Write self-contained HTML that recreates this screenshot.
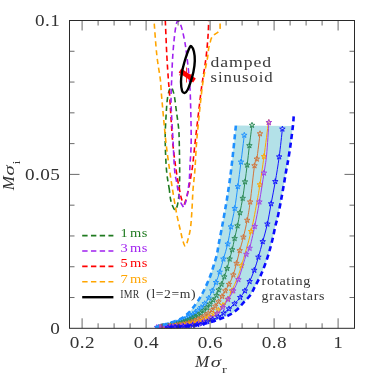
<!DOCTYPE html>
<html><head><meta charset="utf-8"><title>plot</title>
<style>
html,body{margin:0;padding:0;background:#fff;}
svg{display:block;font-family:"Liberation Serif",serif;}
</style></head><body>
<svg width="374" height="374" viewBox="0 0 374 374">
<rect width="374" height="374" fill="#fff"/>
<defs><clipPath id="cp"><rect x="69.50" y="20.50" width="285.00" height="307.80"/></clipPath></defs><g clip-path="url(#cp)">
<path d="M155.00,327.30C156.67,326.85 161.67,325.63 165.00,324.60C168.33,323.57 172.10,322.23 175.00,321.10C177.90,319.97 180.28,319.02 182.40,317.80C184.52,316.58 185.73,315.73 187.70,313.80C189.67,311.87 192.18,308.82 194.20,306.20C196.22,303.58 198.22,300.63 199.80,298.10C201.38,295.57 202.37,293.67 203.70,291.00C205.03,288.33 206.58,284.93 207.80,282.10C209.02,279.27 210.05,276.68 211.00,274.00C211.95,271.32 212.53,269.17 213.50,266.00C214.47,262.83 215.90,258.82 216.80,255.00C217.70,251.18 218.03,247.75 218.90,243.10C219.77,238.45 221.00,232.45 222.00,227.10C223.00,221.75 223.97,216.35 224.90,211.00C225.83,205.65 226.50,202.33 227.60,195.00C228.70,187.67 230.12,178.57 231.50,167.00C232.88,155.43 235.17,132.50 235.90,125.60L292.90,126.00L292.90,126.00C292.57,128.68 291.63,136.75 290.90,142.10C290.17,147.45 289.27,153.45 288.50,158.10C287.73,162.75 287.12,165.35 286.30,170.00C285.48,174.65 284.53,180.65 283.60,186.00C282.67,191.35 281.72,196.75 280.70,202.10C279.68,207.45 278.35,214.28 277.50,218.10C276.65,221.92 276.50,221.18 275.60,225.00C274.70,228.82 273.43,235.65 272.10,241.00C270.77,246.35 269.33,251.75 267.60,257.10C265.87,262.45 263.78,268.23 261.70,273.10C259.62,277.97 256.98,282.65 255.10,286.30C253.22,289.95 252.30,292.32 250.40,295.00C248.50,297.68 245.82,300.07 243.70,302.40C241.58,304.73 239.92,307.00 237.70,309.00C235.48,311.00 232.85,312.93 230.40,314.40C227.95,315.87 225.57,316.73 223.00,317.80C220.43,318.87 217.90,319.87 215.00,320.80C212.10,321.73 208.93,322.67 205.60,323.40C202.27,324.13 198.43,324.70 195.00,325.20C191.57,325.70 189.17,326.03 185.00,326.40C180.83,326.77 172.50,327.23 170.00,327.40Z" fill="#b3e1e8" stroke="none"/>
<path d="M158.00,327.20C160.83,326.58 169.67,325.28 175.00,323.50C180.33,321.72 185.83,319.00 190.00,316.50C194.17,314.00 197.08,311.25 200.00,308.50C202.92,305.75 205.47,302.95 207.50,300.00C209.53,297.05 210.80,293.73 212.20,290.80C213.60,287.87 214.65,285.52 215.90,282.40C217.15,279.28 218.45,276.00 219.70,272.10C220.95,268.20 222.07,263.68 223.40,259.00C224.73,254.32 226.45,249.37 227.70,244.00C228.95,238.63 229.73,232.73 230.90,226.80C232.07,220.87 233.55,215.12 234.70,208.40C235.85,201.68 236.75,194.23 237.80,186.50C238.85,178.77 239.92,170.55 241.00,162.00C242.08,153.45 243.75,139.67 244.30,135.20" fill="none" stroke="#1e90ff" stroke-width="1.00"/>
<path d="M244.30,132.30L244.98,134.27L247.06,134.30L245.39,135.56L246.00,137.55L244.30,136.35L242.60,137.55L243.21,135.56L241.54,134.30L243.62,134.27Z M241.00,159.10L241.68,161.07L243.76,161.10L242.09,162.36L242.70,164.35L241.00,163.15L239.30,164.35L239.91,162.36L238.24,161.10L240.32,161.07Z M237.80,183.60L238.48,185.57L240.56,185.60L238.89,186.86L239.50,188.85L237.80,187.65L236.10,188.85L236.71,186.86L235.04,185.60L237.12,185.57Z M234.70,205.50L235.38,207.47L237.46,207.50L235.79,208.76L236.40,210.75L234.70,209.55L233.00,210.75L233.61,208.76L231.94,207.50L234.02,207.47Z M230.90,223.90L231.58,225.87L233.66,225.90L231.99,227.16L232.60,229.15L230.90,227.95L229.20,229.15L229.81,227.16L228.14,225.90L230.22,225.87Z M227.70,241.10L228.38,243.07L230.46,243.10L228.79,244.36L229.40,246.35L227.70,245.15L226.00,246.35L226.61,244.36L224.94,243.10L227.02,243.07Z M223.40,256.10L224.08,258.07L226.16,258.10L224.49,259.36L225.10,261.35L223.40,260.15L221.70,261.35L222.31,259.36L220.64,258.10L222.72,258.07Z M219.70,269.20L220.38,271.17L222.46,271.20L220.79,272.46L221.40,274.45L219.70,273.25L218.00,274.45L218.61,272.46L216.94,271.20L219.02,271.17Z M215.90,279.50L216.58,281.47L218.66,281.50L216.99,282.76L217.60,284.75L215.90,283.55L214.20,284.75L214.81,282.76L213.14,281.50L215.22,281.47Z M212.20,287.90L212.88,289.87L214.96,289.90L213.29,291.16L213.90,293.15L212.20,291.95L210.50,293.15L211.11,291.16L209.44,289.90L211.52,289.87Z M208.68,295.22L209.36,297.18L211.44,297.22L209.77,298.47L210.38,300.46L208.68,299.27L206.97,300.46L207.59,298.47L205.92,297.22L208.00,297.18Z M204.70,300.72L205.38,302.69L207.46,302.72L205.79,303.97L206.40,305.96L204.70,304.77L203.00,305.96L203.61,303.97L201.94,302.72L204.02,302.69Z M201.08,304.57L201.75,306.54L203.83,306.57L202.17,307.82L202.78,309.81L201.08,308.62L199.37,309.81L199.98,307.82L198.32,306.57L200.40,306.54Z M197.79,307.66L198.47,309.63L200.55,309.66L198.89,310.91L199.50,312.90L197.79,311.71L196.09,312.90L196.70,310.91L195.03,309.66L197.12,309.63Z M195.06,310.03L195.74,312.00L197.82,312.03L196.16,313.28L196.77,315.28L195.06,314.08L193.36,315.28L193.97,313.28L192.30,312.03L194.39,312.00Z M192.91,311.68L193.59,313.65L195.67,313.69L194.00,314.94L194.61,316.93L192.91,315.73L191.21,316.93L191.82,314.94L190.15,313.69L192.23,313.65Z M191.02,312.97L191.69,314.94L193.77,314.97L192.11,316.23L192.72,318.22L191.02,317.02L189.31,318.22L189.92,316.23L188.26,314.97L190.34,314.94Z M188.93,314.23L189.61,316.20L191.69,316.23L190.03,317.48L190.64,319.47L188.93,318.28L187.23,319.47L187.84,317.48L186.17,316.23L188.26,316.20Z M186.65,315.50L187.32,317.47L189.41,317.50L187.74,318.75L188.35,320.74L186.65,319.55L184.94,320.74L185.55,318.75L183.89,317.50L185.97,317.47Z M184.83,316.44L185.51,318.41L187.59,318.45L185.92,319.70L186.53,321.69L184.83,320.49L183.12,321.69L183.74,319.70L182.07,318.45L184.15,318.41Z M182.94,317.37L183.61,319.34L185.70,319.37L184.03,320.62L184.64,322.61L182.94,321.42L181.23,322.61L181.84,320.62L180.18,319.37L182.26,319.34Z M180.99,318.26L181.67,320.23L183.75,320.26L182.08,321.52L182.70,323.51L180.99,322.31L179.29,323.51L179.90,321.52L178.23,320.26L180.32,320.23Z M179.01,319.11L179.68,321.08L181.77,321.11L180.10,322.36L180.71,324.35L179.01,323.16L177.30,324.35L177.91,322.36L176.25,321.11L178.33,321.08Z M177.00,319.89L177.68,321.86L179.76,321.89L178.10,323.15L178.71,325.14L177.00,323.94L175.30,325.14L175.91,323.15L174.25,321.89L176.33,321.86Z M175.00,320.60L175.68,322.57L177.76,322.60L176.09,323.86L176.70,325.85L175.00,324.65L173.30,325.85L173.91,323.86L172.24,322.60L174.32,322.57Z M172.85,321.25L173.53,323.22L175.61,323.25L173.95,324.50L174.56,326.49L172.85,325.30L171.15,326.49L171.76,324.50L170.10,323.25L172.18,323.22Z M170.49,321.84L171.17,323.81L173.25,323.85L171.59,325.10L172.20,327.09L170.49,325.89L168.79,327.09L169.40,325.10L167.73,323.85L169.82,323.81Z M168.02,322.39L168.70,324.36L170.78,324.40L169.12,325.65L169.73,327.64L168.02,326.44L166.32,327.64L166.93,325.65L165.27,324.40L167.35,324.36Z M165.56,322.89L166.24,324.86L168.32,324.89L166.66,326.14L167.27,328.13L165.56,326.94L163.86,328.13L164.47,326.14L162.80,324.89L164.89,324.86Z M163.22,323.33L163.89,325.30L165.98,325.33L164.31,326.58L164.92,328.57L163.22,327.38L161.51,328.57L162.12,326.58L160.46,325.33L162.54,325.30Z M161.10,323.71L161.78,325.68L163.86,325.72L162.20,326.97L162.81,328.96L161.10,327.76L159.40,328.96L160.01,326.97L158.34,325.72L160.43,325.68Z M158.83,324.13L159.50,326.10L161.59,326.14L159.92,327.39L160.53,329.38L158.83,328.18L157.12,329.38L157.73,327.39L156.07,326.14L158.15,326.10Z" fill="none" stroke="#1e90ff" stroke-width="0.95" stroke-linejoin="miter"/>
<path d="M160.00,327.20C163.33,326.58 174.17,325.20 180.00,323.50C185.83,321.80 190.83,319.33 195.00,317.00C199.17,314.67 201.98,312.33 205.00,309.50C208.02,306.67 211.18,302.33 213.10,300.00C215.02,297.67 215.57,297.18 216.50,295.50C217.43,293.82 217.87,291.77 218.70,289.90C219.53,288.03 220.57,286.48 221.50,284.30C222.43,282.12 223.37,279.45 224.30,276.80C225.23,274.15 226.22,271.37 227.10,268.40C227.98,265.43 228.75,262.12 229.60,259.00C230.45,255.88 231.37,253.13 232.20,249.70C233.03,246.27 233.72,242.38 234.60,238.40C235.48,234.42 236.62,230.08 237.50,225.80C238.38,221.52 239.03,217.28 239.90,212.70C240.77,208.12 241.85,203.45 242.70,198.30C243.55,193.15 244.25,187.35 245.00,181.80C245.75,176.25 246.47,171.03 247.20,165.00C247.93,158.97 248.60,152.23 249.40,145.60C250.20,138.97 251.57,128.60 252.00,125.20" fill="none" stroke="#2e8b57" stroke-width="1.00"/>
<path d="M252.00,122.30L252.68,124.27L254.76,124.30L253.09,125.56L253.70,127.55L252.00,126.35L250.30,127.55L250.91,125.56L249.24,124.30L251.32,124.27Z M249.40,142.70L250.08,144.67L252.16,144.70L250.49,145.96L251.10,147.95L249.40,146.75L247.70,147.95L248.31,145.96L246.64,144.70L248.72,144.67Z M247.20,162.10L247.88,164.07L249.96,164.10L248.29,165.36L248.90,167.35L247.20,166.15L245.50,167.35L246.11,165.36L244.44,164.10L246.52,164.07Z M245.00,178.90L245.68,180.87L247.76,180.90L246.09,182.16L246.70,184.15L245.00,182.95L243.30,184.15L243.91,182.16L242.24,180.90L244.32,180.87Z M242.70,195.40L243.38,197.37L245.46,197.40L243.79,198.66L244.40,200.65L242.70,199.45L241.00,200.65L241.61,198.66L239.94,197.40L242.02,197.37Z M239.90,209.80L240.58,211.77L242.66,211.80L240.99,213.06L241.60,215.05L239.90,213.85L238.20,215.05L238.81,213.06L237.14,211.80L239.22,211.77Z M237.50,222.90L238.18,224.87L240.26,224.90L238.59,226.16L239.20,228.15L237.50,226.95L235.80,228.15L236.41,226.16L234.74,224.90L236.82,224.87Z M234.60,235.50L235.28,237.47L237.36,237.50L235.69,238.76L236.30,240.75L234.60,239.55L232.90,240.75L233.51,238.76L231.84,237.50L233.92,237.47Z M232.20,246.80L232.88,248.77L234.96,248.80L233.29,250.06L233.90,252.05L232.20,250.85L230.50,252.05L231.11,250.06L229.44,248.80L231.52,248.77Z M229.60,256.10L230.28,258.07L232.36,258.10L230.69,259.36L231.30,261.35L229.60,260.15L227.90,261.35L228.51,259.36L226.84,258.10L228.92,258.07Z M227.10,265.50L227.78,267.47L229.86,267.50L228.19,268.76L228.80,270.75L227.10,269.55L225.40,270.75L226.01,268.76L224.34,267.50L226.42,267.47Z M224.30,273.90L224.98,275.87L227.06,275.90L225.39,277.16L226.00,279.15L224.30,277.95L222.60,279.15L223.21,277.16L221.54,275.90L223.62,275.87Z M221.50,281.40L222.18,283.37L224.26,283.40L222.59,284.66L223.20,286.65L221.50,285.45L219.80,286.65L220.41,284.66L218.74,283.40L220.82,283.37Z M218.70,287.00L219.38,288.97L221.46,289.00L219.79,290.26L220.40,292.25L218.70,291.05L217.00,292.25L217.61,290.26L215.94,289.00L218.02,288.97Z M216.50,292.60L217.18,294.57L219.26,294.60L217.59,295.86L218.20,297.85L216.50,296.65L214.80,297.85L215.41,295.86L213.74,294.60L215.82,294.57Z M213.10,297.10L213.78,299.07L215.86,299.10L214.19,300.36L214.80,302.35L213.10,301.15L211.40,302.35L212.01,300.36L210.34,299.10L212.42,299.07Z M209.81,301.23L210.49,303.20L212.57,303.24L210.91,304.49L211.52,306.48L209.81,305.28L208.11,306.48L208.72,304.49L207.05,303.24L209.14,303.20Z M206.89,304.67L207.57,306.64L209.65,306.67L207.99,307.92L208.60,309.91L206.89,308.72L205.19,309.91L205.80,307.92L204.13,306.67L206.22,306.64Z M203.88,307.64L204.55,309.61L206.63,309.64L204.97,310.90L205.58,312.89L203.88,311.69L202.17,312.89L202.78,310.90L201.12,309.64L203.20,309.61Z M200.83,310.23L201.50,312.20L203.59,312.23L201.92,313.48L202.53,315.48L200.83,314.28L199.12,315.48L199.74,313.48L198.07,312.23L200.15,312.20Z M197.90,312.34L198.57,314.31L200.65,314.35L198.99,315.60L199.60,317.59L197.90,316.39L196.19,317.59L196.80,315.60L195.14,314.35L197.22,314.31Z M195.00,314.10L195.68,316.07L197.76,316.10L196.09,317.36L196.70,319.35L195.00,318.15L193.30,319.35L193.91,317.36L192.24,316.10L194.32,316.07Z M192.29,315.57L192.96,317.54L195.05,317.57L193.38,318.82L193.99,320.81L192.29,319.62L190.58,320.81L191.19,318.82L189.53,317.57L191.61,317.54Z M189.96,316.73L190.64,318.70L192.72,318.74L191.05,319.99L191.67,321.98L189.96,320.78L188.26,321.98L188.87,319.99L187.20,318.74L189.28,318.70Z M187.50,317.87L188.17,319.84L190.25,319.87L188.59,321.12L189.20,323.11L187.50,321.92L185.79,323.11L186.40,321.12L184.74,319.87L186.82,319.84Z M185.56,318.68L186.23,320.65L188.31,320.68L186.65,321.93L187.26,323.92L185.56,322.73L183.85,323.92L184.46,321.93L182.80,320.68L184.88,320.65Z M183.54,319.45L184.21,321.42L186.30,321.45L184.63,322.70L185.24,324.69L183.54,323.50L181.83,324.69L182.44,322.70L180.78,321.45L182.86,321.42Z M181.44,320.16L182.12,322.13L184.20,322.16L182.53,323.41L183.15,325.41L181.44,324.21L179.74,325.41L180.35,323.41L178.68,322.16L180.77,322.13Z M179.25,320.81L179.92,322.78L182.00,322.81L180.34,324.07L180.95,326.06L179.25,324.86L177.54,326.06L178.15,324.07L176.49,322.81L178.57,322.78Z M176.72,321.42L177.40,323.39L179.48,323.43L177.82,324.68L178.43,326.67L176.72,325.47L175.02,326.67L175.63,324.68L173.97,323.43L176.05,323.39Z M173.93,322.00L174.61,323.97L176.69,324.00L175.02,325.25L175.63,327.24L173.93,326.05L172.23,327.24L172.84,325.25L171.17,324.00L173.25,323.97Z M171.01,322.53L171.68,324.50L173.77,324.53L172.10,325.78L172.71,327.77L171.01,326.58L169.30,327.77L169.91,325.78L168.25,324.53L170.33,324.50Z M168.11,323.01L168.78,324.98L170.86,325.02L169.20,326.27L169.81,328.26L168.11,327.06L166.40,328.26L167.01,326.27L165.35,325.02L167.43,324.98Z M165.37,323.44L166.05,325.41L168.13,325.45L166.46,326.70L167.07,328.69L165.37,327.49L163.67,328.69L164.28,326.70L162.61,325.45L164.69,325.41Z M162.95,323.82L163.62,325.79L165.70,325.82L164.04,327.07L164.65,329.06L162.95,327.87L161.24,329.06L161.85,327.07L160.19,325.82L162.27,325.79Z M160.45,324.22L161.13,326.19L163.21,326.22L161.55,327.47L162.16,329.47L160.45,328.27L158.75,329.47L159.36,327.47L157.70,326.22L159.78,326.19Z" fill="none" stroke="#2e8b57" stroke-width="0.95" stroke-linejoin="miter"/>
<path d="M160.00,327.30C164.17,326.75 178.33,325.47 185.00,324.00C191.67,322.53 195.50,320.83 200.00,318.50C204.50,316.17 208.32,313.68 212.00,310.00C215.68,306.32 219.88,299.60 222.10,296.40C224.32,293.20 224.15,292.82 225.30,290.80C226.45,288.78 227.67,286.95 229.00,284.30C230.33,281.65 232.05,278.40 233.30,274.90C234.55,271.40 235.43,267.35 236.50,263.30C237.57,259.25 238.55,254.97 239.70,250.60C240.85,246.23 242.15,242.17 243.40,237.10C244.65,232.03 246.07,226.07 247.20,220.20C248.33,214.33 248.98,210.98 250.20,201.90C251.42,192.82 253.40,172.85 254.50,165.70C255.60,158.55 255.88,164.33 256.80,159.00C257.72,153.67 259.47,137.92 260.00,133.70" fill="none" stroke="#d2743a" stroke-width="1.00"/>
<path d="M260.00,130.80L260.68,132.77L262.76,132.80L261.09,134.06L261.70,136.05L260.00,134.85L258.30,136.05L258.91,134.06L257.24,132.80L259.32,132.77Z M256.80,156.10L257.48,158.07L259.56,158.10L257.89,159.36L258.50,161.35L256.80,160.15L255.10,161.35L255.71,159.36L254.04,158.10L256.12,158.07Z M254.50,162.80L255.18,164.77L257.26,164.80L255.59,166.06L256.20,168.05L254.50,166.85L252.80,168.05L253.41,166.06L251.74,164.80L253.82,164.77Z M250.20,199.00L250.88,200.97L252.96,201.00L251.29,202.26L251.90,204.25L250.20,203.05L248.50,204.25L249.11,202.26L247.44,201.00L249.52,200.97Z M247.20,217.30L247.88,219.27L249.96,219.30L248.29,220.56L248.90,222.55L247.20,221.35L245.50,222.55L246.11,220.56L244.44,219.30L246.52,219.27Z M243.40,234.20L244.08,236.17L246.16,236.20L244.49,237.46L245.10,239.45L243.40,238.25L241.70,239.45L242.31,237.46L240.64,236.20L242.72,236.17Z M239.70,247.70L240.38,249.67L242.46,249.70L240.79,250.96L241.40,252.95L239.70,251.75L238.00,252.95L238.61,250.96L236.94,249.70L239.02,249.67Z M236.50,260.40L237.18,262.37L239.26,262.40L237.59,263.66L238.20,265.65L236.50,264.45L234.80,265.65L235.41,263.66L233.74,262.40L235.82,262.37Z M233.30,272.00L233.98,273.97L236.06,274.00L234.39,275.26L235.00,277.25L233.30,276.05L231.60,277.25L232.21,275.26L230.54,274.00L232.62,273.97Z M229.00,281.40L229.68,283.37L231.76,283.40L230.09,284.66L230.70,286.65L229.00,285.45L227.30,286.65L227.91,284.66L226.24,283.40L228.32,283.37Z M225.30,287.90L225.98,289.87L228.06,289.90L226.39,291.16L227.00,293.15L225.30,291.95L223.60,293.15L224.21,291.16L222.54,289.90L224.62,289.87Z M222.10,293.50L222.78,295.47L224.86,295.50L223.19,296.76L223.80,298.75L222.10,297.55L220.40,298.75L221.01,296.76L219.34,295.50L221.42,295.47Z M218.48,298.86L219.15,300.83L221.24,300.86L219.57,302.11L220.18,304.10L218.48,302.91L216.77,304.10L217.38,302.11L215.72,300.86L217.80,300.83Z M215.29,303.27L215.97,305.24L218.05,305.27L216.39,306.52L217.00,308.51L215.29,307.32L213.59,308.51L214.20,306.52L212.53,305.27L214.62,305.24Z M212.00,307.10L212.68,309.07L214.76,309.10L213.09,310.36L213.70,312.35L212.00,311.15L210.30,312.35L210.91,310.36L209.24,309.10L211.32,309.07Z M208.25,310.42L208.93,312.39L211.01,312.43L209.35,313.68L209.96,315.67L208.25,314.47L206.55,315.67L207.16,313.68L205.49,312.43L207.58,312.39Z M204.80,312.86L205.48,314.83L207.56,314.86L205.90,316.11L206.51,318.10L204.80,316.91L203.10,318.10L203.71,316.11L202.05,314.86L204.13,314.83Z M201.11,315.01L201.79,316.98L203.87,317.02L202.20,318.27L202.82,320.26L201.11,319.06L199.41,320.26L200.02,318.27L198.35,317.02L200.44,316.98Z M197.79,316.72L198.47,318.69L200.55,318.72L198.88,319.97L199.49,321.96L197.79,320.77L196.08,321.96L196.70,319.97L195.03,318.72L197.11,318.69Z M194.47,318.22L195.14,320.19L197.23,320.22L195.56,321.47L196.17,323.46L194.47,322.27L192.76,323.46L193.38,321.47L191.71,320.22L193.79,320.19Z M191.49,319.33L192.17,321.30L194.25,321.33L192.58,322.59L193.19,324.58L191.49,323.38L189.78,324.58L190.40,322.59L188.73,321.33L190.81,321.30Z M188.83,320.15L189.51,322.12L191.59,322.15L189.92,323.40L190.53,325.40L188.83,324.20L187.12,325.40L187.74,323.40L186.07,322.15L188.15,322.12Z M185.82,320.92L186.49,322.89L188.58,322.92L186.91,324.17L187.52,326.16L185.82,324.97L184.11,326.16L184.73,324.17L183.06,322.92L185.14,322.89Z M183.19,321.46L183.86,323.43L185.95,323.47L184.28,324.72L184.89,326.71L183.19,325.51L181.48,326.71L182.09,324.72L180.43,323.47L182.51,323.43Z M180.02,321.99L180.69,323.96L182.77,323.99L181.11,325.24L181.72,327.23L180.02,326.04L178.31,327.23L178.92,325.24L177.26,323.99L179.34,323.96Z M177.69,322.32L178.36,324.29L180.44,324.33L178.78,325.58L179.39,327.57L177.69,326.37L175.98,327.57L176.59,325.58L174.93,324.33L177.01,324.29Z M175.26,322.64L175.93,324.61L178.02,324.65L176.35,325.90L176.96,327.89L175.26,326.69L173.55,327.89L174.17,325.90L172.50,324.65L174.58,324.61Z M172.79,322.95L173.47,324.92L175.55,324.95L173.89,326.20L174.50,328.19L172.79,327.00L171.09,328.19L171.70,326.20L170.03,324.95L172.12,324.92Z M170.35,323.23L171.02,325.20L173.10,325.24L171.44,326.49L172.05,328.48L170.35,327.28L168.64,328.48L169.25,326.49L167.59,325.24L169.67,325.20Z M167.98,323.50L168.66,325.47L170.74,325.50L169.08,326.76L169.69,328.75L167.98,327.55L166.28,328.75L166.89,326.76L165.23,325.50L167.31,325.47Z M165.76,323.75L166.44,325.71L168.52,325.75L166.86,327.00L167.47,328.99L165.76,327.80L164.06,328.99L164.67,327.00L163.01,325.75L165.09,325.71Z M163.75,323.97L164.42,325.94L166.51,325.97L164.84,327.22L165.45,329.21L163.75,328.02L162.04,329.21L162.65,327.22L160.99,325.97L163.07,325.94Z M161.24,324.25L161.92,326.22L164.00,326.25L162.33,327.50L162.94,329.49L161.24,328.30L159.54,329.49L160.15,327.50L158.48,326.25L160.56,326.22Z" fill="none" stroke="#d2743a" stroke-width="0.95" stroke-linejoin="miter"/>
<path d="M160.00,327.40C165.00,326.92 182.50,325.82 190.00,324.50C197.50,323.18 200.50,321.67 205.00,319.50C209.50,317.33 213.32,314.75 217.00,311.50C220.68,308.25 224.63,303.45 227.10,300.00C229.57,296.55 230.10,294.47 231.80,290.80C233.50,287.13 235.68,282.20 237.30,278.00C238.92,273.80 239.20,273.37 241.50,265.60C243.80,257.83 248.47,242.33 251.10,231.40C253.73,220.47 255.83,207.78 257.30,200.00C258.77,192.22 258.78,191.95 259.90,184.70C261.02,177.45 262.58,166.88 264.00,156.50C265.42,146.12 267.67,128.08 268.40,122.40" fill="none" stroke="#ffa500" stroke-width="1.00"/>
<path d="M268.70,119.50L269.38,121.47L271.46,121.50L269.79,122.76L270.40,124.75L268.70,123.55L267.00,124.75L267.61,122.76L265.94,121.50L268.02,121.47Z M264.00,153.60L264.68,155.57L266.76,155.60L265.09,156.86L265.70,158.85L264.00,157.65L262.30,158.85L262.91,156.86L261.24,155.60L263.32,155.57Z M259.90,181.80L260.58,183.77L262.66,183.80L260.99,185.06L261.60,187.05L259.90,185.85L258.20,187.05L258.81,185.06L257.14,183.80L259.22,183.77Z M251.10,228.50L251.78,230.47L253.86,230.50L252.19,231.76L252.80,233.75L251.10,232.55L249.40,233.75L250.01,231.76L248.34,230.50L250.42,230.47Z M241.50,262.70L242.18,264.67L244.26,264.70L242.59,265.96L243.20,267.95L241.50,266.75L239.80,267.95L240.41,265.96L238.74,264.70L240.82,264.67Z M231.80,287.90L232.48,289.87L234.56,289.90L232.89,291.16L233.50,293.15L231.80,291.95L230.10,293.15L230.71,291.16L229.04,289.90L231.12,289.87Z M227.68,296.26L228.35,298.23L230.44,298.27L228.77,299.52L229.38,301.51L227.68,300.31L225.97,301.51L226.58,299.52L224.92,298.27L227.00,298.23Z M222.94,302.42L223.62,304.38L225.70,304.42L224.04,305.67L224.65,307.66L222.94,306.47L221.24,307.66L221.85,305.67L220.18,304.42L222.27,304.38Z M218.39,307.31L219.07,309.28L221.15,309.32L219.48,310.57L220.09,312.56L218.39,311.36L216.69,312.56L217.30,310.57L215.63,309.32L217.71,309.28Z M213.73,311.28L214.41,313.25L216.49,313.28L214.82,314.54L215.43,316.53L213.73,315.33L212.02,316.53L212.64,314.54L210.97,313.28L213.05,313.25Z M209.80,313.97L210.48,315.94L212.56,315.98L210.90,317.23L211.51,319.22L209.80,318.02L208.10,319.22L208.71,317.23L207.05,315.98L209.13,315.94Z M206.11,316.05L206.79,318.02L208.87,318.05L207.20,319.30L207.82,321.30L206.11,320.10L204.41,321.30L205.02,319.30L203.35,318.05L205.44,318.02Z M202.85,317.63L203.52,319.60L205.61,319.64L203.94,320.89L204.55,322.88L202.85,321.68L201.14,322.88L201.75,320.89L200.09,319.64L202.17,319.60Z M199.72,319.00L200.40,320.97L202.48,321.01L200.82,322.26L201.43,324.25L199.72,323.05L198.02,324.25L198.63,322.26L196.96,321.01L199.05,320.97Z M196.86,320.01L197.53,321.98L199.61,322.01L197.95,323.27L198.56,325.26L196.86,324.06L195.15,325.26L195.76,323.27L194.10,322.01L196.18,321.98Z M194.16,320.75L194.83,322.72L196.91,322.75L195.25,324.00L195.86,325.99L194.16,324.80L192.45,325.99L193.06,324.00L191.40,322.75L193.48,322.72Z M191.78,321.27L192.46,323.24L194.54,323.27L192.88,324.52L193.49,326.51L191.78,325.32L190.08,326.51L190.69,324.52L189.03,323.27L191.11,323.24Z M189.01,321.76L189.69,323.73L191.77,323.77L190.11,325.02L190.72,327.01L189.01,325.81L187.31,327.01L187.92,325.02L186.25,323.77L188.34,323.73Z M186.76,322.08L187.44,324.05L189.52,324.09L187.86,325.34L188.47,327.33L186.76,326.13L185.06,327.33L185.67,325.34L184.00,324.09L186.09,324.05Z M184.21,322.39L184.89,324.36L186.97,324.39L185.31,325.65L185.92,327.64L184.21,326.44L182.51,327.64L183.12,325.65L181.46,324.39L183.54,324.36Z M181.44,322.69L182.12,324.66L184.20,324.69L182.54,325.94L183.15,327.93L181.44,326.74L179.74,327.93L180.35,325.94L178.69,324.69L180.77,324.66Z M178.53,322.97L179.21,324.94L181.29,324.97L179.62,326.22L180.23,328.21L178.53,327.02L176.83,328.21L177.44,326.22L175.77,324.97L177.85,324.94Z M175.55,323.24L176.23,325.20L178.31,325.24L176.65,326.49L177.26,328.48L175.55,327.29L173.85,328.48L174.46,326.49L172.79,325.24L174.88,325.20Z M172.59,323.49L173.26,325.45L175.34,325.49L173.68,326.74L174.29,328.73L172.59,327.54L170.88,328.73L171.49,326.74L169.83,325.49L171.91,325.45Z M169.71,323.72L170.39,325.69L172.47,325.72L170.81,326.97L171.42,328.96L169.71,327.77L168.01,328.96L168.62,326.97L166.95,325.72L169.04,325.69Z M167.01,323.93L167.68,325.90L169.76,325.93L168.10,327.18L168.71,329.18L167.01,327.98L165.30,329.18L165.91,327.18L164.25,325.93L166.33,325.90Z M164.55,324.12L165.23,326.09L167.31,326.13L165.64,327.38L166.25,329.37L164.55,328.17L162.84,329.37L163.46,327.38L161.79,326.13L163.87,326.09Z M162.42,324.29L163.09,326.26L165.18,326.29L163.51,327.55L164.12,329.54L162.42,328.34L160.71,329.54L161.32,327.55L159.66,326.29L161.74,326.26Z M160.00,324.50L160.68,326.47L162.76,326.50L161.09,327.76L161.70,329.75L160.00,328.55L158.30,329.75L158.91,327.76L157.24,326.50L159.32,326.47Z" fill="none" stroke="#ffa500" stroke-width="0.95" stroke-linejoin="miter"/>
<path d="M156.00,327.40C162.00,326.97 183.50,326.03 192.00,324.80C200.50,323.57 202.50,322.13 207.00,320.00C211.50,317.87 215.48,315.45 219.00,312.00C222.52,308.55 225.72,302.83 228.10,299.30C230.48,295.77 231.58,294.08 233.30,290.80C235.02,287.52 236.83,283.73 238.40,279.60C239.97,275.47 241.37,270.22 242.70,266.00C244.03,261.78 245.25,257.27 246.40,254.30C247.55,251.33 248.22,252.85 249.60,248.20C250.98,243.55 253.07,234.12 254.70,226.40C256.33,218.68 257.85,210.80 259.40,201.90C260.95,193.00 262.80,180.82 264.00,173.00C265.20,165.18 265.78,163.43 266.60,155.00C267.42,146.57 268.52,127.83 268.90,122.40" fill="none" stroke="#a040e8" stroke-width="1.00"/>
<path d="M268.90,119.50L269.58,121.47L271.66,121.50L269.99,122.76L270.60,124.75L268.90,123.55L267.20,124.75L267.81,122.76L266.14,121.50L268.22,121.47Z M264.00,170.10L264.68,172.07L266.76,172.10L265.09,173.36L265.70,175.35L264.00,174.15L262.30,175.35L262.91,173.36L261.24,172.10L263.32,172.07Z M259.40,199.00L260.08,200.97L262.16,201.00L260.49,202.26L261.10,204.25L259.40,203.05L257.70,204.25L258.31,202.26L256.64,201.00L258.72,200.97Z M254.70,223.50L255.38,225.47L257.46,225.50L255.79,226.76L256.40,228.75L254.70,227.55L253.00,228.75L253.61,226.76L251.94,225.50L254.02,225.47Z M249.60,245.30L250.28,247.27L252.36,247.30L250.69,248.56L251.30,250.55L249.60,249.35L247.90,250.55L248.51,248.56L246.84,247.30L248.92,247.27Z M246.40,251.40L247.08,253.37L249.16,253.40L247.49,254.66L248.10,256.65L246.40,255.45L244.70,256.65L245.31,254.66L243.64,253.40L245.72,253.37Z M238.40,276.70L239.08,278.67L241.16,278.70L239.49,279.96L240.10,281.95L238.40,280.75L236.70,281.95L237.31,279.96L235.64,278.70L237.72,278.67Z M233.30,287.90L233.98,289.87L236.06,289.90L234.39,291.16L235.00,293.15L233.30,291.95L231.60,293.15L232.21,291.16L230.54,289.90L232.62,289.87Z M228.10,296.40L228.78,298.37L230.86,298.40L229.19,299.66L229.80,301.65L228.10,300.45L226.40,301.65L227.01,299.66L225.34,298.40L227.42,298.37Z M222.80,304.50L223.47,306.47L225.55,306.50L223.89,307.75L224.50,309.74L222.80,308.55L221.09,309.74L221.70,307.75L220.04,306.50L222.12,306.47Z M217.20,310.74L217.88,312.71L219.96,312.75L218.30,314.00L218.91,315.99L217.20,314.79L215.50,315.99L216.11,314.00L214.44,312.75L216.53,312.71Z M210.81,315.14L211.48,317.11L213.56,317.15L211.90,318.40L212.51,320.39L210.81,319.19L209.10,320.39L209.71,318.40L208.05,317.15L210.13,317.11Z M204.43,318.35L205.11,320.32L207.19,320.35L205.53,321.60L206.14,323.59L204.43,322.40L202.73,323.59L203.34,321.60L201.67,320.35L203.76,320.32Z M198.67,320.58L199.34,322.55L201.42,322.59L199.76,323.84L200.37,325.83L198.67,324.63L196.96,325.83L197.57,323.84L195.91,322.59L197.99,322.55Z M193.03,321.74L193.71,323.71L195.79,323.75L194.12,325.00L194.73,326.99L193.03,325.79L191.32,326.99L191.94,325.00L190.27,323.75L192.35,323.71Z M186.80,322.49L187.47,324.46L189.56,324.49L187.89,325.75L188.50,327.74L186.80,326.54L185.09,327.74L185.70,325.75L184.04,324.49L186.12,324.46Z M181.95,322.90L182.63,324.87L184.71,324.90L183.05,326.15L183.66,328.14L181.95,326.95L180.25,328.14L180.86,326.15L179.19,324.90L181.28,324.87Z M176.67,323.27L177.34,325.24L179.42,325.27L177.76,326.53L178.37,328.52L176.67,327.32L174.96,328.52L175.57,326.53L173.91,325.27L175.99,325.24Z M173.06,323.50L173.74,325.47L175.82,325.50L174.16,326.76L174.77,328.75L173.06,327.55L171.36,328.75L171.97,326.76L170.30,325.50L172.39,325.47Z M169.51,323.71L170.19,325.68L172.27,325.72L170.60,326.97L171.22,328.96L169.51,327.76L167.81,328.96L168.42,326.97L166.75,325.72L168.84,325.68Z M166.11,323.91L166.79,325.88L168.87,325.91L167.20,327.16L167.82,329.15L166.11,327.96L164.41,329.15L165.02,327.16L163.35,325.91L165.44,325.88Z M162.96,324.08L163.64,326.05L165.72,326.09L164.05,327.34L164.67,329.33L162.96,328.13L161.26,329.33L161.87,327.34L160.20,326.09L162.28,326.05Z M160.16,324.24L160.84,326.21L162.92,326.25L161.25,327.50L161.86,329.49L160.16,328.29L158.46,329.49L159.07,327.50L157.40,326.25L159.48,326.21Z M156.83,324.44L157.50,326.41L159.59,326.45L157.92,327.70L158.53,329.69L156.83,328.49L155.12,329.69L155.73,327.70L154.07,326.45L156.15,326.41Z" fill="none" stroke="#a040e8" stroke-width="0.95" stroke-linejoin="miter"/>
<path d="M165.00,327.50C168.33,327.30 179.17,326.88 185.00,326.30C190.83,325.72 195.83,324.95 200.00,324.00C204.17,323.05 206.88,321.80 210.00,320.60C213.12,319.40 215.87,318.48 218.70,316.80C221.53,315.12 224.35,312.68 227.00,310.50C229.65,308.32 232.40,305.88 234.60,303.70C236.80,301.52 238.48,299.55 240.20,297.40C241.92,295.25 243.33,293.45 244.90,290.80C246.47,288.15 248.03,284.93 249.60,281.50C251.17,278.07 252.83,274.27 254.30,270.20C255.77,266.13 257.00,261.87 258.40,257.10C259.80,252.33 261.20,247.12 262.70,241.60C264.20,236.08 266.00,230.32 267.40,224.00C268.80,217.68 269.78,210.78 271.10,203.70C272.42,196.62 273.95,189.32 275.30,181.50C276.65,173.68 278.02,165.55 279.20,156.80C280.38,148.05 281.87,133.63 282.40,129.00" fill="none" stroke="#1414ff" stroke-width="1.00"/>
<path d="M282.40,126.10L283.08,128.07L285.16,128.10L283.49,129.36L284.10,131.35L282.40,130.15L280.70,131.35L281.31,129.36L279.64,128.10L281.72,128.07Z M279.20,153.90L279.88,155.87L281.96,155.90L280.29,157.16L280.90,159.15L279.20,157.95L277.50,159.15L278.11,157.16L276.44,155.90L278.52,155.87Z M275.30,178.60L275.98,180.57L278.06,180.60L276.39,181.86L277.00,183.85L275.30,182.65L273.60,183.85L274.21,181.86L272.54,180.60L274.62,180.57Z M271.10,200.80L271.78,202.77L273.86,202.80L272.19,204.06L272.80,206.05L271.10,204.85L269.40,206.05L270.01,204.06L268.34,202.80L270.42,202.77Z M267.40,221.10L268.08,223.07L270.16,223.10L268.49,224.36L269.10,226.35L267.40,225.15L265.70,226.35L266.31,224.36L264.64,223.10L266.72,223.07Z M262.70,238.70L263.38,240.67L265.46,240.70L263.79,241.96L264.40,243.95L262.70,242.75L261.00,243.95L261.61,241.96L259.94,240.70L262.02,240.67Z M258.40,254.20L259.08,256.17L261.16,256.20L259.49,257.46L260.10,259.45L258.40,258.25L256.70,259.45L257.31,257.46L255.64,256.20L257.72,256.17Z M254.30,267.30L254.98,269.27L257.06,269.30L255.39,270.56L256.00,272.55L254.30,271.35L252.60,272.55L253.21,270.56L251.54,269.30L253.62,269.27Z M249.60,278.60L250.28,280.57L252.36,280.60L250.69,281.86L251.30,283.85L249.60,282.65L247.90,283.85L248.51,281.86L246.84,280.60L248.92,280.57Z M244.90,287.90L245.58,289.87L247.66,289.90L245.99,291.16L246.60,293.15L244.90,291.95L243.20,293.15L243.81,291.16L242.14,289.90L244.22,289.87Z M240.20,294.50L240.88,296.47L242.96,296.50L241.29,297.76L241.90,299.75L240.20,298.55L238.50,299.75L239.11,297.76L237.44,296.50L239.52,296.47Z M234.60,300.80L235.28,302.77L237.36,302.80L235.69,304.06L236.30,306.05L234.60,304.85L232.90,306.05L233.51,304.06L231.84,302.80L233.92,302.77Z M229.00,305.92L229.67,307.89L231.75,307.93L230.09,309.18L230.70,311.17L229.00,309.97L227.29,311.17L227.90,309.18L226.24,307.93L228.32,307.89Z M223.61,310.39L224.29,312.36L226.37,312.39L224.71,313.64L225.32,315.63L223.61,314.44L221.91,315.63L222.52,313.64L220.85,312.39L222.94,312.36Z M218.35,314.11L219.02,316.08L221.10,316.11L219.44,317.36L220.05,319.35L218.35,318.16L216.64,319.35L217.25,317.36L215.59,316.11L217.67,316.08Z M212.64,316.70L213.32,318.67L215.40,318.70L213.74,319.95L214.35,321.94L212.64,320.75L210.94,321.94L211.55,319.95L209.89,318.70L211.97,318.67Z M207.33,318.75L208.01,320.72L210.09,320.76L208.42,322.01L209.03,324.00L207.33,322.80L205.62,324.00L206.24,322.01L204.57,320.76L206.65,320.72Z M202.43,320.47L203.11,322.44L205.19,322.47L203.53,323.73L204.14,325.72L202.43,324.52L200.73,325.72L201.34,323.73L199.67,322.47L201.76,322.44Z M197.29,321.67L197.96,323.64L200.05,323.67L198.38,324.93L198.99,326.92L197.29,325.72L195.58,326.92L196.19,324.93L194.53,323.67L196.61,323.64Z M192.50,322.48L193.17,324.45L195.25,324.49L193.59,325.74L194.20,327.73L192.50,326.53L190.79,327.73L191.40,325.74L189.74,324.49L191.82,324.45Z M187.85,323.09L188.52,325.06L190.61,325.10L188.94,326.35L189.55,328.34L187.85,327.14L186.14,328.34L186.75,326.35L185.09,325.10L187.17,325.06Z M183.44,323.54L184.12,325.51L186.20,325.55L184.54,326.80L185.15,328.79L183.44,327.59L181.74,328.79L182.35,326.80L180.69,325.55L182.77,325.51Z M178.93,323.87L179.61,325.84L181.69,325.87L180.02,327.12L180.63,329.11L178.93,327.92L177.23,329.11L177.84,327.12L176.17,325.87L178.25,325.84Z M175.03,324.09L175.71,326.06L177.79,326.10L176.13,327.35L176.74,329.34L175.03,328.14L173.33,329.34L173.94,327.35L172.27,326.10L174.36,326.06Z M171.25,324.29L171.93,326.26L174.01,326.29L172.35,327.54L172.96,329.53L171.25,328.34L169.55,329.53L170.16,327.54L168.50,326.29L170.58,326.26Z M167.95,324.45L168.62,326.42L170.70,326.45L169.04,327.70L169.65,329.69L167.95,328.50L166.24,329.69L166.85,327.70L165.19,326.45L167.27,326.42Z" fill="none" stroke="#1414ff" stroke-width="0.95" stroke-linejoin="miter"/>
<path d="M235.90,125.60C235.17,132.50 232.88,155.43 231.50,167.00C230.12,178.57 228.70,187.67 227.60,195.00C226.50,202.33 225.83,205.65 224.90,211.00C223.97,216.35 223.00,221.75 222.00,227.10C221.00,232.45 219.77,238.45 218.90,243.10C218.03,247.75 217.70,251.18 216.80,255.00C215.90,258.82 214.47,262.83 213.50,266.00C212.53,269.17 211.95,271.32 211.00,274.00C210.05,276.68 209.02,279.27 207.80,282.10C206.58,284.93 205.03,288.33 203.70,291.00C202.37,293.67 201.38,295.57 199.80,298.10C198.22,300.63 196.22,303.58 194.20,306.20C192.18,308.82 189.67,311.87 187.70,313.80C185.73,315.73 184.52,316.58 182.40,317.80C180.28,319.02 177.90,319.97 175.00,321.10C172.10,322.23 168.33,323.57 165.00,324.60C161.67,325.63 156.67,326.85 155.00,327.30" fill="none" stroke="#1e90ff" stroke-width="2.6" stroke-dasharray="5.2 3.6"/>
<path d="M293.70,116.40C293.57,118.00 293.37,121.72 292.90,126.00C292.43,130.28 291.63,136.75 290.90,142.10C290.17,147.45 289.27,153.45 288.50,158.10C287.73,162.75 287.12,165.35 286.30,170.00C285.48,174.65 284.53,180.65 283.60,186.00C282.67,191.35 281.72,196.75 280.70,202.10C279.68,207.45 278.35,214.28 277.50,218.10C276.65,221.92 276.50,221.18 275.60,225.00C274.70,228.82 273.43,235.65 272.10,241.00C270.77,246.35 269.33,251.75 267.60,257.10C265.87,262.45 263.78,268.23 261.70,273.10C259.62,277.97 256.98,282.65 255.10,286.30C253.22,289.95 252.30,292.32 250.40,295.00C248.50,297.68 245.82,300.07 243.70,302.40C241.58,304.73 239.92,307.00 237.70,309.00C235.48,311.00 232.85,312.93 230.40,314.40C227.95,315.87 225.57,316.73 223.00,317.80C220.43,318.87 217.90,319.87 215.00,320.80C212.10,321.73 208.93,322.67 205.60,323.40C202.27,324.13 198.43,324.70 195.00,325.20C191.57,325.70 189.17,326.03 185.00,326.40C180.83,326.77 172.50,327.23 170.00,327.40" fill="none" stroke="#0a0aff" stroke-width="2.6" stroke-dasharray="5.2 3.6"/>
<path d="M169.40,190.00C168.92,186.67 167.20,178.33 166.50,170.00C165.80,161.67 165.28,148.83 165.20,140.00C165.12,131.17 165.60,124.07 166.00,117.00C166.40,109.93 166.80,102.53 167.60,97.60C168.40,92.67 169.73,87.93 170.80,87.40C171.87,86.87 173.05,90.30 174.00,94.40C174.95,98.50 175.73,106.40 176.50,112.00C177.27,117.60 178.15,123.33 178.60,128.00C179.05,132.67 179.02,132.33 179.20,140.00C179.38,147.67 179.70,165.67 179.70,174.00C179.70,182.33 179.38,186.00 179.20,190.00C179.02,194.00 178.93,195.33 178.60,198.00C178.27,200.67 177.80,204.00 177.20,206.00C176.60,208.00 175.77,210.00 175.00,210.00C174.23,210.00 173.35,207.83 172.60,206.00C171.85,204.17 171.03,201.67 170.50,199.00C169.97,196.33 169.58,191.50 169.40,190.00" fill="none" stroke="#1f7a1f" stroke-width="1.6" stroke-dasharray="5.3 3.5"/>
<path d="M165.30,20.30C165.55,26.08 166.28,45.05 166.80,55.00C167.32,64.95 167.93,73.33 168.40,80.00C168.87,86.67 168.92,85.00 169.60,95.00C170.28,105.00 171.53,128.33 172.50,140.00C173.47,151.67 174.58,158.60 175.40,165.00C176.22,171.40 176.73,174.40 177.40,178.40C178.07,182.40 178.73,185.67 179.40,189.00C180.07,192.33 180.63,195.93 181.40,198.40C182.17,200.87 183.12,204.03 184.00,203.80C184.88,203.57 185.80,200.13 186.70,197.00C187.60,193.87 188.62,189.00 189.40,185.00C190.18,181.00 190.85,176.33 191.40,173.00C191.95,169.67 192.03,170.50 192.70,165.00C193.37,159.50 194.08,151.67 195.40,140.00C196.72,128.33 199.37,105.17 200.60,95.00C201.83,84.83 201.90,85.20 202.80,79.00C203.70,72.80 205.13,64.90 206.00,57.80C206.87,50.70 207.55,42.65 208.00,36.40C208.45,30.15 208.58,22.98 208.70,20.30" fill="none" stroke="#ff0000" stroke-width="1.6" stroke-dasharray="5.3 3.5"/>
<path d="M183.40,207.10C182.95,206.32 181.48,204.52 180.70,202.40C179.92,200.28 179.37,197.73 178.70,194.40C178.03,191.07 177.38,186.47 176.70,182.40C176.02,178.33 175.22,177.07 174.60,170.00C173.98,162.93 173.55,150.00 173.00,140.00C172.45,130.00 171.62,117.50 171.30,110.00C170.98,102.50 171.03,100.17 171.10,95.00C171.17,89.83 171.42,85.67 171.70,79.00C171.98,72.33 172.25,62.83 172.80,55.00C173.35,47.17 174.22,37.67 175.00,32.00C175.78,26.33 176.50,22.05 177.50,21.00C178.50,19.95 179.82,22.42 181.00,25.70C182.18,28.98 183.65,35.82 184.60,40.70C185.55,45.58 185.98,49.28 186.70,55.00C187.42,60.72 188.30,68.33 188.90,75.00C189.50,81.67 189.92,84.17 190.30,95.00C190.68,105.83 191.25,128.33 191.20,140.00C191.15,151.67 190.30,158.60 190.00,165.00C189.70,171.40 189.73,174.17 189.40,178.40C189.07,182.63 188.57,186.63 188.00,190.40C187.43,194.17 186.77,198.22 186.00,201.00C185.23,203.78 183.83,206.08 183.40,207.10" fill="none" stroke="#a020f0" stroke-width="1.6" stroke-dasharray="5.3 3.5"/>
<path d="M220.10,23.60C220.10,24.17 220.12,26.05 220.10,27.00C220.08,27.95 220.15,28.65 220.00,29.30C219.85,29.95 219.60,30.37 219.20,30.90C218.80,31.43 218.22,32.00 217.60,32.50C216.98,33.00 216.17,33.45 215.50,33.90C214.83,34.35 214.15,34.75 213.60,35.20C213.05,35.65 212.65,35.87 212.20,36.60C211.75,37.33 211.27,38.48 210.90,39.60C210.53,40.72 210.37,41.87 210.00,43.30C209.63,44.73 209.12,45.78 208.70,48.20C208.28,50.62 208.32,53.00 207.50,57.80C206.68,62.60 204.83,70.80 203.80,77.00C202.77,83.20 202.47,84.50 201.30,95.00C200.13,105.50 197.87,127.50 196.80,140.00C195.73,152.50 195.53,161.67 194.90,170.00C194.27,178.33 193.50,183.18 193.00,190.00C192.50,196.82 192.30,204.73 191.90,210.90C191.50,217.07 191.18,222.48 190.60,227.00C190.02,231.52 189.25,234.80 188.40,238.00C187.55,241.20 186.40,245.65 185.50,246.20C184.60,246.75 183.80,243.72 183.00,241.30C182.20,238.88 181.75,236.25 180.70,231.70C179.65,227.15 178.05,220.95 176.70,214.00C175.35,207.05 173.78,197.33 172.60,190.00C171.42,182.67 170.75,178.33 169.60,170.00C168.45,161.67 167.05,152.50 165.70,140.00C164.35,127.50 162.38,105.00 161.50,95.00C160.62,85.00 161.18,86.67 160.40,80.00C159.62,73.33 157.87,64.95 156.80,55.00C155.73,45.05 154.47,26.08 154.00,20.30" fill="none" stroke="#ffa500" stroke-width="1.6" stroke-dasharray="5.3 3.5"/>
<path d="M180,70.5L194.5,80.5" stroke="#ff0000" stroke-width="4.6" fill="none"/>
<path d="M186.5,67.5V82.5M179,74.8H193.5" stroke="#ff0000" stroke-width="0.8" fill="none"/>
<path d="M191.20,46.20C191.92,46.85 193.30,49.05 193.90,51.50C194.50,53.95 194.88,57.47 194.80,60.90C194.72,64.33 194.08,68.63 193.40,72.10C192.72,75.57 191.63,78.80 190.70,81.70C189.77,84.60 188.78,87.63 187.80,89.50C186.82,91.37 185.75,92.68 184.80,92.90C183.85,93.12 182.73,92.67 182.10,90.80C181.47,88.93 181.02,84.82 181.00,81.70C180.98,78.58 181.45,75.30 182.00,72.10C182.55,68.90 183.40,65.72 184.30,62.50C185.20,59.28 186.52,55.28 187.40,52.80C188.28,50.32 188.97,48.70 189.60,47.60C190.23,46.50 190.48,45.55 191.20,46.20Z" fill="none" stroke="#000" stroke-width="2.4" stroke-linejoin="round"/>
</g>
<path d="M82.2,235.6H113.4" stroke="#1f7a1f" stroke-width="1.6" stroke-dasharray="5.4 3.35" fill="none"/>
<path d="M82.2,251.0H113.4" stroke="#a020f0" stroke-width="1.6" stroke-dasharray="5.4 3.35" fill="none"/>
<path d="M82.2,266.4H113.4" stroke="#ff0000" stroke-width="1.6" stroke-dasharray="5.4 3.35" fill="none"/>
<path d="M82.2,281.8H113.4" stroke="#ffa500" stroke-width="1.6" stroke-dasharray="5.4 3.35" fill="none"/>
<path d="M82.2,297.2H113.4" stroke="#000" stroke-width="2.4" fill="none"/>
<path d="M82.10,20.50v10M82.10,328.30v-10M98.10,20.50v5M98.10,328.30v-5M114.10,20.50v5M114.10,328.30v-5M130.10,20.50v5M130.10,328.30v-5M146.10,20.50v10M146.10,328.30v-10M162.10,20.50v5M162.10,328.30v-5M178.10,20.50v5M178.10,328.30v-5M194.10,20.50v5M194.10,328.30v-5M210.10,20.50v10M210.10,328.30v-10M226.10,20.50v5M226.10,328.30v-5M242.10,20.50v5M242.10,328.30v-5M258.10,20.50v5M258.10,328.30v-5M274.10,20.50v10M274.10,328.30v-10M290.10,20.50v5M290.10,328.30v-5M306.10,20.50v5M306.10,328.30v-5M322.10,20.50v5M322.10,328.30v-5M338.10,20.50v10M338.10,328.30v-10M69.50,297.52h5M354.50,297.52h-5M69.50,266.74h5M354.50,266.74h-5M69.50,235.96h5M354.50,235.96h-5M69.50,205.18h5M354.50,205.18h-5M69.50,174.40h10M354.50,174.40h-10M69.50,143.62h5M354.50,143.62h-5M69.50,112.84h5M354.50,112.84h-5M69.50,82.06h5M354.50,82.06h-5M69.50,51.28h5M354.50,51.28h-5" stroke="#444" stroke-width="0.8" fill="none"/>
<rect x="69.50" y="20.50" width="285.00" height="307.80" fill="none" stroke="#2a2a2a" stroke-width="1"/>
<g style="opacity:0.999">
<text transform="translate(82.30,348.20) scale(1.200,1)" font-size="16.00" text-anchor="middle" fill="#333" letter-spacing="0.30" >0.2</text>
<text transform="translate(146.30,348.20) scale(1.200,1)" font-size="16.00" text-anchor="middle" fill="#333" letter-spacing="0.30" >0.4</text>
<text transform="translate(210.30,348.20) scale(1.200,1)" font-size="16.00" text-anchor="middle" fill="#333" letter-spacing="0.30" >0.6</text>
<text transform="translate(274.30,348.20) scale(1.200,1)" font-size="16.00" text-anchor="middle" fill="#333" letter-spacing="0.30" >0.8</text>
<text transform="translate(338.30,348.20) scale(1.200,1)" font-size="16.00" text-anchor="middle" fill="#333" letter-spacing="0.30" >1</text>
<text transform="translate(60.10,26.00) scale(1.200,1)" font-size="16.00" text-anchor="end" fill="#333" letter-spacing="0.30" >0.1</text>
<text transform="translate(60.10,179.90) scale(1.200,1)" font-size="16.00" text-anchor="end" fill="#333" letter-spacing="0.30" >0.05</text>
<text transform="translate(60.10,333.80) scale(1.200,1)" font-size="16.00" text-anchor="end" fill="#333" letter-spacing="0.30" >0</text>
<text transform="translate(120.60,236.60) scale(1.130,1)" font-size="12.80" text-anchor="start" fill="#1f7a1f" letter-spacing="0.30" word-spacing="-1.8">1 ms</text>
<text transform="translate(120.60,252.00) scale(1.130,1)" font-size="12.80" text-anchor="start" fill="#a020f0" letter-spacing="0.30" word-spacing="-1.8">3 ms</text>
<text transform="translate(120.60,267.40) scale(1.130,1)" font-size="12.80" text-anchor="start" fill="#ff0000" letter-spacing="0.30" word-spacing="-1.8">5 ms</text>
<text transform="translate(120.60,282.80) scale(1.130,1)" font-size="12.80" text-anchor="start" fill="#ffa500" letter-spacing="0.30" word-spacing="-1.8">7 ms</text>
<text transform="translate(120.30,298.00) scale(0.820,1)" font-size="12.00" text-anchor="start" fill="#333" letter-spacing="0.30" >IMR</text>
<text transform="translate(146.30,298.00) scale(1.143,1)" font-size="12.00" text-anchor="start" fill="#333" letter-spacing="0.50" >(l=2=m)</text>
<text transform="translate(210.50,66.70) scale(1.164,1)" font-size="15.20" text-anchor="start" fill="#3a3a3a" letter-spacing="0.80" >damped</text>
<text transform="translate(210.50,82.20) scale(1.106,1)" font-size="15.20" text-anchor="start" fill="#3a3a3a" letter-spacing="0.80" >sinusoid</text>
<text transform="translate(261.60,285.40) scale(1.135,1)" font-size="12.50" text-anchor="start" fill="#3a3a3a" letter-spacing="0.60" >rotating</text>
<text transform="translate(261.60,300.10) scale(1.123,1)" font-size="12.50" text-anchor="start" fill="#3a3a3a" letter-spacing="0.60" >gravastars</text>
<text transform="translate(195,367.4)" font-size="17" font-style="italic" fill="#333">M</text>
<text transform="translate(210.8,367.4) scale(1.42,1)" font-size="14.5" font-style="italic" fill="#333">σ</text>
<text transform="translate(222.1,372.7) scale(1.45,1)" font-size="10" fill="#333">r</text>
<text transform="translate(13.9,190.2) rotate(-90)" font-size="17" font-style="italic" fill="#333">M</text>
<text transform="translate(13.9,175.6) rotate(-90) scale(1.42,1)" font-size="14.5" font-style="italic" fill="#333">σ</text>
<text transform="translate(20,164.4) rotate(-90) scale(1.5,1)" font-size="9.5" fill="#333">i</text>
</g>
</svg>
</body></html>
